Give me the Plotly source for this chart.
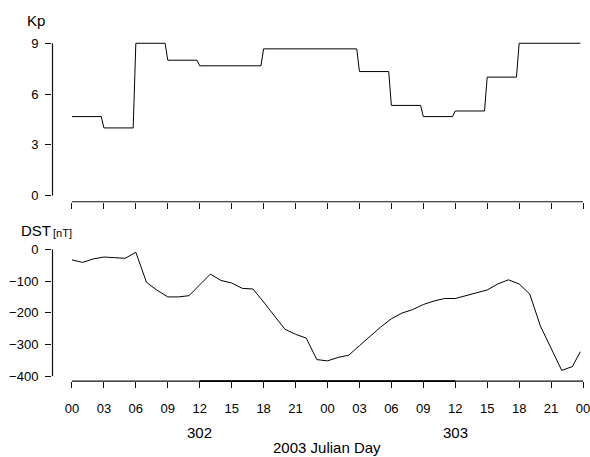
import plotly.graph_objects as go

# ---- data -------------------------------------------------------------
# 3-hourly Kp index, days 302-303 of 2003 (16 intervals of 3 h)
kp_values = [4.67, 4.0, 9.0, 8.0, 7.67, 7.67, 8.67, 8.67,
             8.67, 7.33, 5.33, 4.67, 5.0, 7.0, 9.0, 9.0]
kp_step_hours = 3
kp_sample = 0.25  # sampling resolution of the Kp series (h)

# hourly Dst index (nT), hours since 00 UT day 302
dst_hours = list(range(48)) + [47.75]
dst_values = [-33, -41, -30, -24, -26, -28, -9, -104, -129, -150,
              -150, -146, -112, -78, -98, -106, -123, -125, -166, -209,
              -252, -268, -280, -348, -352, -341, -334, -304, -274, -245,
              -219, -201, -190, -174, -163, -155, -155, -146, -137, -128,
              -109, -96, -109, -141, -242, -310, -382, -370, -323]

hour_ticks = list(range(0, 49, 3))
hour_labels = ["%02d" % (h % 24) for h in hour_ticks]
day_centres = [12, 36]
day_labels = ["302", "303"]
kp_ticks = [0, 3, 6, 9]
dst_ticks = [0, -100, -200, -300, -400]
dst_labels = [str(v).replace("-", "\u2212") for v in dst_ticks]

# ---- build step curve for Kp -----------------------------------------
kp_x, kp_y = [], []
for i, v in enumerate(kp_values):
    t0 = i * kp_step_hours
    kp_x += [t0, t0 + kp_step_hours - kp_sample]
    kp_y += [v, v]

# ---- layout geometry -------------------------------------------------
W, H = 590, 457
ML = 52
FONT = "Liberation Sans, Arial, sans-serif"
px_per_hour = 512 / 48.0
x_range = [-(72 - ML) / px_per_hour, (W - 72) / px_per_hour]


def padded(lo, hi, f=0.04):
    d = (hi - lo) * f
    return [lo - d, hi + d]


def ydom(top_px, bottom_px):
    return [1 - bottom_px / H, 1 - top_px / H]


kp_range = padded(0, 9)
dst_range = padded(-400, 0)
kp_dom = ydom(35.5, 201.5)
dst_dom = ydom(244.5, 382.5)

fig = go.Figure()
fig.add_trace(go.Scatter(x=kp_x, y=kp_y, mode="lines",
                         line=dict(color="black", width=1),
                         xaxis="x", yaxis="y", showlegend=False))
fig.add_trace(go.Scatter(x=dst_hours, y=dst_values, mode="lines",
                         line=dict(color="black", width=1),
                         xaxis="x2", yaxis="y2", showlegend=False))

tick_common = dict(ticks="outside", ticklen=6, tickwidth=1.2,
                   tickcolor="#111", showgrid=False, zeroline=False,
                   showline=False, ticklabeloverflow="allow",
                   tickfont=dict(family=FONT, size=13, color="black"))

fig.update_layout(
    width=W, height=H,
    margin=dict(l=ML, r=0, t=0, b=0),
    plot_bgcolor="white",
    font=dict(family=FONT, color="black"),
    xaxis=dict(domain=[0, 1], range=x_range, anchor="y",
               tickvals=hour_ticks, showticklabels=False, **tick_common),
    yaxis=dict(domain=kp_dom, range=kp_range, anchor="x",
               tickvals=kp_ticks, ticklabelstandoff=4, **tick_common),
    xaxis2=dict(domain=[0, 1], range=x_range, anchor="y2",
                tickvals=hour_ticks, ticktext=hour_labels,
                ticklabelstandoff=9, **tick_common),
    yaxis2=dict(domain=dst_dom, range=dst_range,
                anchor="x2", tickvals=dst_ticks, ticktext=dst_labels,
                ticklabelstandoff=4, **tick_common),
)


# R-style axis lines spanning only the tick range
def xpaper(v):
    return (v - x_range[0]) / (x_range[1] - x_range[0])


def ypaper(v, rng, dom):
    return dom[0] + (v - rng[0]) / (rng[1] - rng[0]) * (dom[1] - dom[0])


def seg(x0, y0, x1, y1, color="#111", width=1.2):
    fig.add_shape(type="line", xref="paper", yref="paper",
                  x0=x0, y0=y0, x1=x1, y1=y1,
                  line=dict(color=color, width=width))


x_edge = 0.5 / (W - ML)
seg(xpaper(hour_ticks[0]), kp_dom[0], xpaper(hour_ticks[-1]), kp_dom[0])
seg(x_edge, ypaper(kp_ticks[0], kp_range, kp_dom), x_edge,
    ypaper(kp_ticks[-1], kp_range, kp_dom))
seg(xpaper(hour_ticks[0]), dst_dom[0], xpaper(hour_ticks[-1]), dst_dom[0])
seg(xpaper(day_centres[0]), dst_dom[0], xpaper(day_centres[-1]), dst_dom[0],
    color="black", width=1.6)
seg(x_edge, ypaper(min(dst_ticks), dst_range, dst_dom),
    x_edge, ypaper(max(dst_ticks), dst_range, dst_dom))


def px_x(px):
    return (px - ML) / (W - ML)


def px_y(py):
    return 1 - py / H


fig.add_annotation(text="Kp", xref="paper", yref="paper",
                   x=px_x(25), y=px_y(19), xanchor="left", yanchor="middle",
                   showarrow=False, font=dict(family=FONT, size=15))
fig.add_annotation(text="DST", xref="paper", yref="paper",
                   x=px_x(18.5), y=px_y(231), xanchor="left", yanchor="middle",
                   showarrow=False, font=dict(family=FONT, size=15))
fig.add_annotation(text="[nT]", xref="paper", yref="paper",
                   x=px_x(51), y=px_y(233.5), xanchor="left", yanchor="middle",
                   showarrow=False, font=dict(family=FONT, size=11))
for c, lab in zip(day_centres, day_labels):
    fig.add_annotation(text=lab, xref="x2", yref="paper",
                       x=c, y=px_y(434), xanchor="center", yanchor="middle",
                       showarrow=False, font=dict(family=FONT, size=15))
fig.add_annotation(text="2003 Julian Day", xref="x2", yref="paper",
                   x=(hour_ticks[0] + hour_ticks[-1]) / 2, y=px_y(449.5),
                   xanchor="center", yanchor="middle",
                   showarrow=False, font=dict(family=FONT, size=15))

fig.write_html("out.html")
